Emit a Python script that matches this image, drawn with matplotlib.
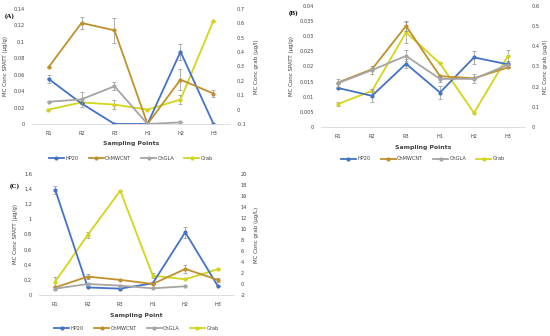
import matplotlib
matplotlib.use("Agg")
import matplotlib.pyplot as plt
import numpy as np

cats = ["R1", "R2", "R3", "H1", "H2", "H3"]

# Panel A
a_hp20 = [0.055, 0.025, 0.0, 0.0, 0.088, 0.0]
a_hp20_err = [0.005, 0.0, 0.0, 0.0, 0.010, 0.0]
a_chm = [0.069, 0.123, 0.114, 0.0, 0.054, 0.037]
a_chm_err = [0.0, 0.007, 0.015, 0.0, 0.013, 0.004]
a_chg = [0.027, 0.030, 0.046, 0.0, 0.002, np.nan]
a_chg_err = [0.0, 0.009, 0.005, 0.0, 0.0, 0.0]
a_grab = [0.0, 0.05, 0.035, 0.0, 0.07, 0.62]
a_grab_err = [0.0, 0.0, 0.03, 0.0, 0.03, 0.0]

# Panel B
b_hp20 = [0.0129, 0.0103, 0.0209, 0.0114, 0.0230, 0.0207]
b_hp20_err = [0.0, 0.0022, 0.0015, 0.0022, 0.0022, 0.001]
b_chm = [0.0147, 0.0191, 0.0334, 0.0168, 0.0161, 0.0197]
b_chm_err = [0.0, 0.0, 0.0015, 0.0, 0.0, 0.0]
b_chg = [0.0145, 0.0188, 0.0235, 0.0159, 0.0159, 0.0206]
b_chg_err = [0.0013, 0.0013, 0.0018, 0.001, 0.0015, 0.0]
b_grab = [0.114, 0.179, 0.469, 0.315, 0.070, 0.353]
b_grab_err = [0.01, 0.0, 0.05, 0.0, 0.0, 0.03]

# Panel C
c_hp20 = [1.39, 0.10, 0.084, 0.155, 0.83, 0.12]
c_hp20_err = [0.05, 0.0, 0.0, 0.0, 0.07, 0.0]
c_chm = [0.10, 0.243, 0.20, 0.146, 0.345, 0.20]
c_chm_err = [0.0, 0.03, 0.0, 0.0, 0.05, 0.03]
c_chg = [0.084, 0.146, 0.124, 0.088, 0.115, np.nan]
c_chg_err = [0.02, 0.0, 0.0, 0.0, 0.0, 0.0]
c_grab = [0.43, 8.94, 16.96, 1.52, 0.86, 2.68]
c_grab_err = [0.8, 0.5, 0.0, 0.5, 0.0, 0.0]

C_HP = "#4472C4"
C_CHM = "#C0902C"
C_CHG = "#A5A5A5"
C_GRAB = "#D4D41C"

W, H = 550, 336
fig = plt.figure(figsize=(5.5, 3.36), dpi=100)
plt.rcParams['font.family'] = ['DejaVu Sans']
FS = 3.6


def px(l, t, w, h):
    return [l / W, (H - t - h) / H, w / W, h / H]


def panel(rect, label, lab_xy, hp, hpe, chm, chme, chg, chge, grab, grabe,
          ylim, yticks, yfmt, rlim, rticks, rfmt, xlabel, rlabel, legy,
          rpad=5, rlabpad=5):
    ax = fig.add_axes(px(*rect))
    ax2 = ax.twinx()
    x = np.arange(len(cats))
    lw = 1.3
    ms = 2.0
    ekw = dict(ecolor="#909090", elinewidth=0.5, capsize=1.2, capthick=0.5)
    lines = []
    for y, e, c, a in [(hp, hpe, C_HP, ax), (chm, chme, C_CHM, ax), (chg, chge, C_CHG, ax)]:
        a.errorbar(x, y, yerr=e, fmt="none", **ekw)
        l, = a.plot(x, y, color=c, lw=lw, marker="o", ms=ms)
        lines.append(l)
    ax2.errorbar(x, grab, yerr=grabe, fmt="none", **ekw)
    l, = ax2.plot(x, grab, color=C_GRAB, lw=lw, marker="o", ms=ms)
    lines.append(l)
    ax.set_zorder(ax2.get_zorder() + 1)
    ax.patch.set_visible(False)

    ax.set_xlim(-0.5, 5.5)
    ax.set_xticks(x)
    ax.set_xticklabels(cats)
    ax.set_ylim(*ylim)
    ax.set_yticks(yticks)
    ax.set_yticklabels([yfmt(v) for v in yticks])
    ax2.set_ylim(*rlim)
    ax2.set_yticks(rticks)
    ax2.set_yticklabels([rfmt(v) for v in rticks])
    for a in (ax, ax2):
        for s in ("top", "left", "right"):
            a.spines[s].set_visible(False)
        a.spines["bottom"].set_color("#D9D9D9")
        a.spines["bottom"].set_linewidth(0.6)
        a.tick_params(length=0, labelsize=FS, colors="#404040", pad=5)
    ax2.tick_params(axis="y", pad=rpad)
    ax2.spines["bottom"].set_visible(False)
    ax.set_xlabel(xlabel, fontsize=4.4, color="#404040", labelpad=4, fontweight="bold")
    ax.set_ylabel("MC Conc SPATT (µg/g)", fontsize=4.0, color="#404040", labelpad=4)
    ax2.set_ylabel(rlabel, fontsize=4.0, color="#404040", labelpad=rlabpad)
    fig.text(lab_xy[0] / W, 1 - lab_xy[1] / H, label, fontsize=5, fontweight="bold",
             family="Liberation Serif", va="center", ha="left")
    cx = (rect[0] + rect[2] / 2) / W
    fig.legend(lines, ["HP20", "ChMWCNT", "ChGLA", "Grab"], loc="center",
               bbox_to_anchor=(cx, 1 - legy / H), ncol=4, frameon=False,
               fontsize=FS, handlelength=3.0, columnspacing=2.0, handletextpad=0.3,
               labelcolor="#404040")
    return ax


def f2(v):
    s = ("%g" % v)
    return s


panel((32, 9, 198, 115), "(A)", (5, 16), a_hp20, a_hp20_err, a_chm, a_chm_err,
      a_chg, a_chg_err, a_grab, a_grab_err,
      (0, 0.14), np.round(np.arange(0, 0.141, 0.02), 2), f2,
      (-0.1, 0.7), np.round(np.arange(-0.1, 0.71, 0.1), 1), f2,
      "Sampling Points", "MC Conc grab (µg/l)", 158)

panel((321, 6, 204, 121), "(B)", (289, 13), b_hp20, b_hp20_err, b_chm, b_chm_err,
      b_chg, b_chg_err, b_grab, b_grab_err,
      (0, 0.04), np.round(np.arange(0, 0.0401, 0.005), 3), f2,
      (0, 0.6), np.round(np.arange(0, 0.61, 0.1), 1), f2,
      "Sampling Points", "MC Conc grab (µg/l)", 159, rpad=5, rlabpad=2)

panel((39, 174, 195, 121), "(C)", (10, 186), c_hp20, c_hp20_err, c_chm, c_chm_err,
      c_chg, c_chg_err, c_grab, c_grab_err,
      (0, 1.6), np.round(np.arange(0, 1.61, 0.2), 1), f2,
      (-2, 20), np.arange(-2, 21, 2), f2,
      "Sampling Point", "MC Conc grab (µg/L)", 328)

fig.savefig("out.png", dpi=100, facecolor="white")
